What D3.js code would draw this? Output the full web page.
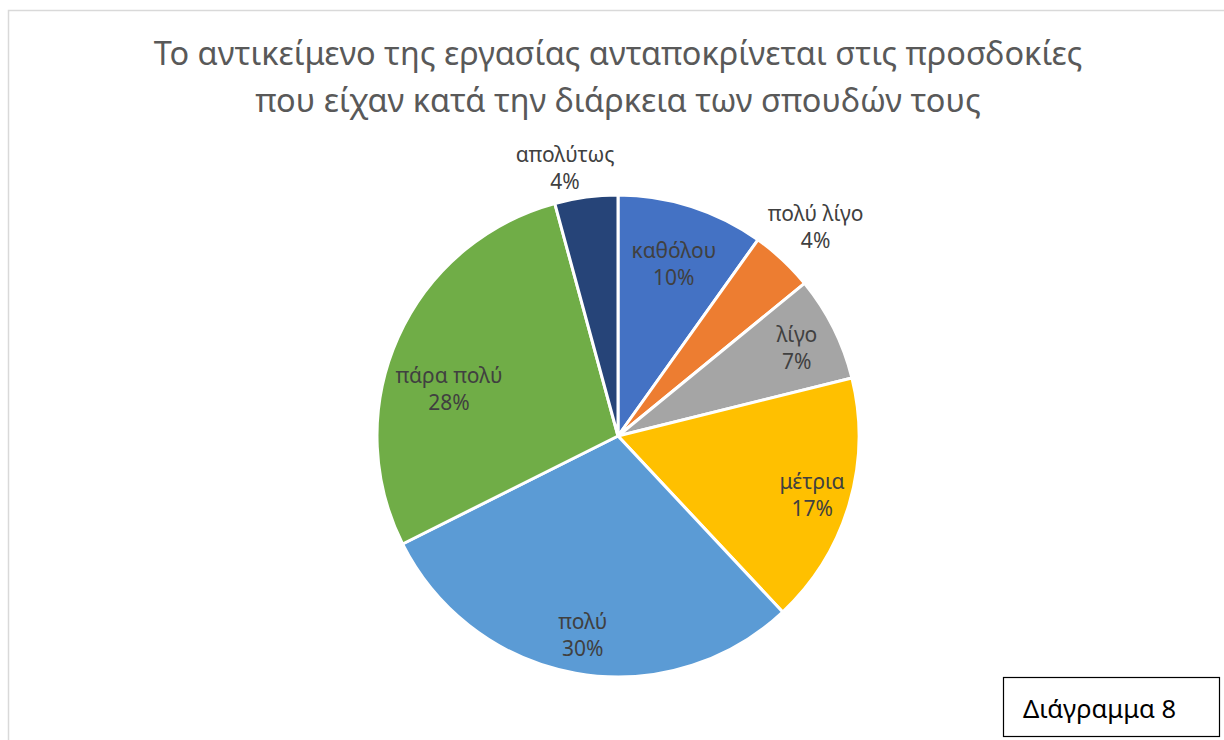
<!DOCTYPE html>
<html>
<head>
<meta charset="utf-8">
<script src="https://cdn.jsdelivr.net/npm/d3@7"></script>
<style>
  html, body { margin: 0; padding: 0; background: #fff; }
  svg { display: block; font-family: "Noto Sans", "Open Sans", sans-serif; }
</style>
</head>
<body>
<svg id="chart" width="1224" height="740"></svg>
<script>
const categories = ["καθόλου", "πολύ λίγο", "λίγο", "μέτρια", "πολύ", "πάρα πολύ", "απολύτως"];
const counts = [7, 3, 5, 12, 21, 20, 3];
const colors = ["#4472C4", "#ED7D31", "#A5A5A5", "#FFC000", "#5B9BD5", "#70AD47", "#264478"];
const titleLines = ["Το αντικείμενο της εργασίας ανταποκρίνεται στις προσδοκίες",
                    "που είχαν κατά την διάρκεια των σπουδών τους"];
const captionText = "Διάγραμμα 8";

// label placement (layout only): fraction of radius and angular shift in degrees
const labelRadius = [0.76, 1.2, 0.83, 0.84, 0.83, 0.73, 1.14];
const labelShift = [0, 0, 0, 0, 0, -8, -3.5];

const svg = d3.select("#chart");
const W = 1224, H = 740;

svg.append("rect")
  .attr("x", 8.5).attr("y", 10.5)
  .attr("width", W + 20).attr("height", H + 20)
  .attr("fill", "#fff").attr("stroke", "#d9d9d9").attr("stroke-width", 1.5);

const title = svg.append("text")
  .attr("text-anchor", "middle")
  .attr("fill", "#595959")
  .style("font-size", "32.5px");
title.selectAll("tspan").data(titleLines).join("tspan")
  .attr("x", 618)
  .attr("y", (d, i) => 65 + i * 47)
  .text(d => d);

const cx = 618, cy = 436, R = 241;
const total = d3.sum(counts);
const data = categories.map((c, i) => ({ name: c, value: counts[i], color: colors[i], lr: labelRadius[i], ls: labelShift[i] }));

const pie = d3.pie().value(d => d.value).sort(null);
const arcs = pie(data);
const arc = d3.arc().innerRadius(0).outerRadius(R);

const g = svg.append("g").attr("transform", `translate(${cx},${cy})`);
g.selectAll("path").data(arcs).join("path")
  .attr("d", arc)
  .attr("fill", d => d.data.color)
  .attr("stroke", "#fff")
  .attr("stroke-width", 3)
  .attr("stroke-linejoin", "round");

const fmt = v => Math.round(v / total * 100) + "%";
const lbl = g.selectAll("text.lbl").data(arcs).join("text")
  .attr("class", "lbl")
  .attr("text-anchor", "middle")
  .attr("fill", "#404040")
  .style("font-size", "21px")
  .attr("transform", d => {
    const r = R * d.data.lr;
    const a = (d.startAngle + d.endAngle) / 2 + d.data.ls * Math.PI / 180;
    return `translate(${r * Math.sin(a)},${-r * Math.cos(a)})`;
  });
lbl.append("tspan").attr("x", 0).attr("y", -4).text(d => d.data.name);
lbl.append("tspan").attr("x", 0).attr("y", 23).text(d => fmt(d.data.value));

svg.append("rect")
  .attr("x", 1003.5).attr("y", 677.5).attr("width", 216).attr("height", 59)
  .attr("fill", "#fff").attr("stroke", "#000").attr("stroke-width", 1.2);
svg.append("text")
  .attr("x", 1023).attr("y", 718)
  .attr("fill", "#000")
  .style("font-size", "25.5px")
  .text(captionText);
</script>
</body>
</html>
